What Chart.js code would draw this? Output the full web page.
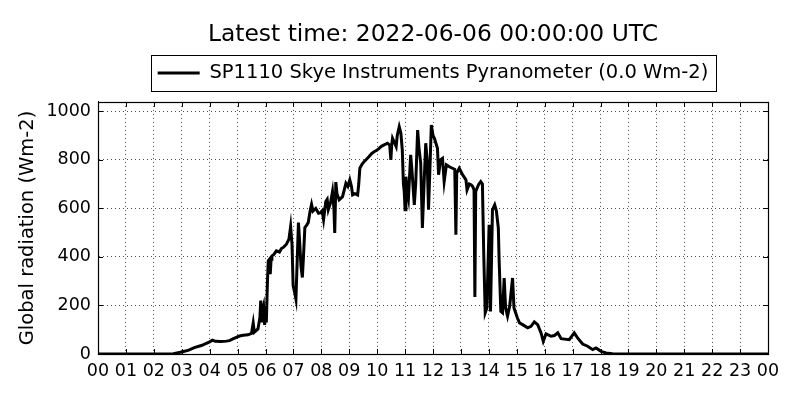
<!DOCTYPE html>
<html>
<head>
<meta charset="utf-8">
<script src="https://cdn.jsdelivr.net/npm/chart.js@4/dist/chart.umd.min.js"></script>
<style>
  html, body { margin: 0; padding: 0; background: #fff; }
  #wrap { width: 800px; height: 400px; position: relative; }
</style>
</head>
<body>
<div id="wrap"><canvas id="c"></canvas></div>
<script>
// ---- data (time in hours of day, radiation in Wm-2) ----
const timesH = [
  0, 2.5, 2.7, 3.0, 3.25, 3.45, 3.7, 3.9, 4.0, 4.1, 4.2, 4.4, 4.6, 4.71, 4.85, 5.07, 5.2, 5.37, 5.5,
  5.56, 5.6, 5.73, 5.8, 5.83, 5.86, 5.9, 5.93, 5.97, 5.99, 6.03, 6.07, 6.1, 6.14, 6.17, 6.2, 6.23,
  6.3, 6.39, 6.5, 6.57, 6.65, 6.75, 6.84, 6.9, 6.95, 6.99, 7.05, 7.09, 7.14, 7.18, 7.23, 7.27, 7.32,
  7.36, 7.41, 7.47, 7.53, 7.6, 7.65, 7.7, 7.8, 7.9, 7.97, 8.03, 8.08, 8.16, 8.21, 8.25, 8.33, 8.4,
  8.45, 8.48, 8.52, 8.56, 8.64, 8.76, 8.88, 8.95, 9.02, 9.08, 9.12, 9.2, 9.3, 9.34, 9.38, 9.45, 9.53,
  9.6, 9.71, 9.8, 9.89, 10.0, 10.07, 10.15, 10.25, 10.37, 10.45, 10.49, 10.52, 10.55, 10.62, 10.68,
  10.72, 10.79, 10.85, 10.9, 10.94, 10.97, 11.0, 11.03, 11.07, 11.12, 11.2, 11.25, 11.33, 11.38,
  11.45, 11.5, 11.56, 11.62, 11.68, 11.74, 11.79, 11.84, 11.9, 11.94, 12.0, 12.05, 12.16, 12.2,
  12.27, 12.34, 12.4, 12.48, 12.6, 12.7, 12.78, 12.82, 12.85, 12.94, 13.05, 13.18, 13.22, 13.3,
  13.36, 13.42, 13.47, 13.5, 13.53, 13.63, 13.71, 13.77, 13.82, 13.87, 13.93, 14.01, 14.06, 14.13,
  14.21, 14.27, 14.34, 14.37, 14.43, 14.49, 14.55, 14.6, 14.67, 14.75, 14.85, 14.9, 14.96, 15.02,
  15.1, 15.21, 15.39, 15.51, 15.63, 15.75, 15.87, 15.95, 16.05, 16.23, 16.35, 16.47, 16.59, 16.88,
  17.06, 17.18, 17.36, 17.54, 17.72, 17.84, 18.02, 18.2, 18.43, 18.6, 24
];
const radiation = [
  0, 0, 1, 8, 16, 26, 35, 45, 50, 57, 52, 51, 53, 55, 63, 74, 77, 79, 85,
  128, 90, 103, 150, 220, 130, 185, 199, 120, 158, 130, 300, 384, 390, 329, 390, 404,
  410, 425, 420, 434, 440, 452, 473, 525, 450, 281, 250, 226, 400, 541, 450, 363, 315,
  400, 521, 530, 541, 590, 616, 589, 600, 580, 582, 590, 553, 628, 637, 594, 623, 669,
  600, 498, 708, 660, 635, 648, 703, 690, 717, 690, 655, 660, 655, 700, 765, 780, 792,
  800, 813, 825, 833, 840, 847, 855, 861, 868, 860, 799, 860, 888, 870, 854,
  900, 936, 909, 840, 700, 669, 594, 730, 676, 642, 820, 750, 614, 700,
  922, 847, 786, 519, 700, 868, 800, 594, 800, 943, 900, 888, 847, 738,
  800, 806, 710, 779, 770, 765, 760, 491, 745, 765, 740, 717, 676, 700,
  697, 690, 676, 235, 669, 697, 710, 700, 400, 170, 190, 532, 175, 594,
  614, 590, 519, 382, 176, 170, 313, 190, 156, 200, 313, 190, 170, 149,
  128, 121, 108, 114, 132, 121, 87, 52, 83, 73, 76, 87, 63, 59,
  87, 66, 41, 32, 18, 25, 11, 4, 1, 0, 0
];
const xTickValues = [0,1,2,3,4,5,6,7,8,9,10,11,12,13,14,15,16,17,18,19,20,21,22,23,24];
const xTickLabels = ['00','01','02','03','04','05','06','07','08','09','10','11','12',
                     '13','14','15','16','17','18','19','20','21','22','23','00'];
const yTickValues = [0, 200, 400, 600, 800, 1000];
const yMax = 1038;
const titleText = 'Latest time: 2022-06-06 00:00:00 UTC';
const seriesLabel = 'SP1110 Skye Instruments Pyranometer (0.0 Wm-2)';
const yAxisTitle = 'Global radiation (Wm-2)';

const FONT = "'DejaVu Sans', sans-serif";

const framePlugin = {
  id: 'frame',
  afterDraw(chart) {
    const {ctx, chartArea: a, scales} = chart;
    ctx.save();
    ctx.strokeStyle = '#000';
    ctx.lineWidth = 1;
    // inward tick marks on all sides
    const tl = 5;
    ctx.beginPath();
    xTickValues.forEach(v => {
      const px = Math.round(scales.x.getPixelForValue(v)) + 0.5;
      ctx.moveTo(px, a.bottom); ctx.lineTo(px, a.bottom - tl);
      ctx.moveTo(px, a.top); ctx.lineTo(px, a.top + tl);
    });
    yTickValues.forEach(v => {
      const py = Math.round(scales.y.getPixelForValue(v)) + 0.5;
      ctx.moveTo(a.left, py); ctx.lineTo(a.left + tl, py);
      ctx.moveTo(a.right, py); ctx.lineTo(a.right - tl, py);
    });
    ctx.stroke();
    // plot frame
    ctx.lineWidth = 1.2;
    ctx.strokeRect(Math.round(a.left) + 0.5, Math.round(a.top) + 0.5,
                   Math.round(a.right - a.left), Math.round(a.bottom - a.top));
    // legend frame
    const hb = chart.legend && chart.legend.legendHitBoxes && chart.legend.legendHitBoxes[0];
    if (hb) {
      const cy = hb.top + hb.height / 2;
      const l = hb.left - 7, r = hb.left + hb.width + 7;
      ctx.lineWidth = 1;
      ctx.strokeRect(Math.round(l) + 0.5, Math.round(cy - 18) + 0.5, Math.round(r - l), 36);
    }
    ctx.restore();
  }
};

new Chart(document.getElementById('c'), {
  type: 'line',
  data: {
    datasets: [{
      label: seriesLabel,
      data: timesH.map((t, i) => ({x: t, y: radiation[i]})),
      borderColor: '#000',
      backgroundColor: '#000',
      borderWidth: 3,
      pointRadius: 0,
      tension: 0,
      fill: false
    }]
  },
  options: {
    responsive: true,
    maintainAspectRatio: false,
    animation: false,
    layout: { padding: { left: 0, right: 32, top: 0, bottom: 0 } },
    plugins: {
      title: {
        display: true,
        text: titleText,
        fullSize: false,
        color: '#000',
        font: { family: FONT, size: 23.4, weight: 'normal' },
        padding: { top: 20.5, bottom: 4.6 }
      },
      legend: {
        display: true,
        fullSize: false,
        labels: {
          color: '#000',
          font: { family: FONT, size: 19.5 },
          usePointStyle: true,
          pointStyle: 'line',
          pointStyleWidth: 42,
          boxWidth: 44,
          padding: 10
        }
      },
      tooltip: { enabled: false }
    },
    scales: {
      x: {
        type: 'linear',
        min: 0, max: 24,
        afterBuildTicks: s => { s.ticks = xTickValues.map(v => ({value: v})); },
        afterFit: s => { s.height = 46; },
        ticks: {
          autoSkip: false, maxRotation: 0, minRotation: 0,
          color: '#000', padding: 7,
          font: { family: FONT, size: 17.5 },
          callback: (v, i) => xTickLabels[i]
        },
        grid: { color: '#000', lineWidth: 0.7, drawTicks: false },
        border: { display: true, color: '#000', width: 1, dash: [1, 3] }
      },
      xTop: {
        type: 'linear', position: 'top', min: 0, max: 24,
        display: true,
        afterFit: s => { s.height = 9.25; },
        ticks: { display: false },
        grid: { display: false, drawTicks: false },
        border: { display: false }
      },
      y: {
        type: 'linear',
        min: 0, max: yMax,
        afterBuildTicks: s => { s.ticks = yTickValues.map(v => ({value: v})); },
        afterFit: s => { s.width = 98; },
        ticks: {
          color: '#000', padding: 7,
          font: { family: FONT, size: 17.5 },
          callback: v => String(v)
        },
        grid: { color: '#000', lineWidth: 0.7, drawTicks: false },
        border: { display: true, color: '#000', width: 1, dash: [1, 3] },
        title: {
          display: true, text: yAxisTitle, color: '#000',
          font: { family: FONT, size: 19.5 },
          padding: { top: 16.3, bottom: 0 }
        }
      }
    }
  },
  plugins: [framePlugin]
});
</script>
</body>
</html>
